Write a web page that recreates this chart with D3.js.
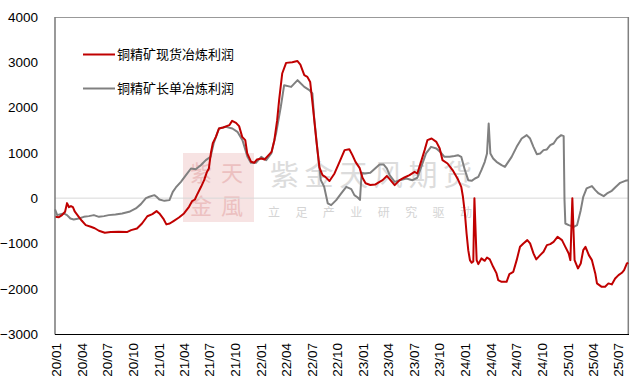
<!DOCTYPE html>
<html><head><meta charset="utf-8">
<script src="https://cdn.jsdelivr.net/npm/d3@7"></script>
<style>
html,body{margin:0;padding:0;background:#fff;}
svg{display:block;}
</style>
</head><body>
<svg id="c" width="637" height="391"></svg>
<script>
// ---- Data ----
const seriesNames = ["铜精矿现货冶炼利润", "铜精矿长单冶炼利润"];
const yTicks = [-3000, -2000, -1000, 0, 1000, 2000, 3000, 4000];
const xTickLabels = ["20/01","20/04","20/07","20/10","21/01","21/04","21/07","21/10","22/01","22/04","22/07","22/10","23/01","23/04","23/07","23/10","24/01","24/04","24/07","24/10","25/01","25/04","25/07"];

const spotDates = ["2020-01-01","2020-01-15","2020-01-26","2020-02-06","2020-02-13","2020-02-20","2020-02-27","2020-03-05","2020-03-12","2020-03-26","2020-04-06","2020-04-20","2020-05-08","2020-05-22","2020-06-06","2020-06-27","2020-07-18","2020-08-16","2020-09-14","2020-09-29","2020-10-20","2020-11-07","2020-11-26","2020-12-14","2020-12-29","2021-01-08","2021-01-22","2021-02-02","2021-02-14","2021-03-01","2021-03-19","2021-04-06","2021-04-24","2021-05-05","2021-05-15","2021-05-22","2021-06-06","2021-06-17","2021-06-27","2021-07-04","2021-07-11","2021-07-18","2021-07-29","2021-08-09","2021-08-24","2021-09-15","2021-09-25","2021-10-09","2021-10-20","2021-10-31","2021-11-11","2021-11-18","2021-12-02","2021-12-13","2021-12-23","2022-01-08","2022-01-19","2022-01-30","2022-02-13","2022-02-23","2022-03-05","2022-03-12","2022-03-23","2022-04-06","2022-04-28","2022-05-16","2022-05-27","2022-06-10","2022-06-21","2022-07-01","2022-07-12","2022-07-23","2022-08-03","2022-08-14","2022-08-24","2022-09-08","2022-09-26","2022-10-14","2022-11-01","2022-11-18","2022-11-29","2022-12-10","2022-12-25","2023-01-04","2023-01-15","2023-02-01","2023-02-18","2023-03-06","2023-03-17","2023-04-01","2023-04-11","2023-04-29","2023-05-17","2023-06-03","2023-06-21","2023-07-09","2023-07-19","2023-08-03","2023-08-14","2023-08-24","2023-09-08","2023-09-25","2023-10-07","2023-10-17","2023-11-04","2023-11-22","2023-12-10","2023-12-23","2023-12-29","2024-01-05","2024-01-11","2024-01-17","2024-01-23","2024-01-29","2024-02-04","2024-02-08","2024-02-16","2024-02-22","2024-03-04","2024-03-16","2024-03-24","2024-04-03","2024-04-15","2024-04-27","2024-05-03","2024-05-15","2024-06-02","2024-06-12","2024-06-26","2024-07-08","2024-07-20","2024-08-01","2024-08-15","2024-08-25","2024-09-06","2024-09-16","2024-09-30","2024-10-12","2024-10-24","2024-11-05","2024-11-17","2024-12-01","2024-12-17","2024-12-29","2025-01-10","2025-01-16","2025-01-23","2025-01-31","2025-02-12","2025-02-22","2025-03-03","2025-03-11","2025-03-23","2025-04-03","2025-04-15","2025-04-21","2025-05-08","2025-05-20","2025-06-01","2025-06-13","2025-06-25","2025-07-07","2025-07-19","2025-07-27","2025-08-06","2025-08-11"];
const spotProfit = [-413,-420,-375,-300,-110,-200,-175,-200,-300,-413,-500,-595,-633,-665,-720,-765,-750,-743,-750,-706,-670,-560,-400,-353,-287,-338,-450,-580,-560,-500,-427,-338,-192,-66,-30,66,250,397,580,655,990,1214,1353,1538,1560,1611,1707,1663,1590,1353,1280,987,802,780,854,876,854,927,1022,1280,1722,2163,2752,2987,3002,3030,2950,2715,2678,2567,1942,1280,680,508,470,380,545,802,1060,1080,950,800,662,450,330,290,300,360,397,490,420,287,397,456,508,580,545,839,1060,1280,1317,1243,1096,839,765,620,430,250,30,-338,-780,-1148,-1369,-1428,-1400,0,-1369,-1457,-1331,-1384,-1310,-1353,-1516,-1662,-1810,-1847,-1847,-1678,-1627,-1369,-1075,-1000,-927,-1000,-1221,-1353,-1258,-1185,-1037,-1015,-965,-854,-927,-1075,-1221,-1369,0,-1369,-1552,-1442,-1148,-1075,-1258,-1369,-1662,-1883,-1958,-1958,-1883,-1905,-1773,-1700,-1648,-1590,-1442,-1428];

const longDates = ["2020-01-01","2020-01-09","2020-01-21","2020-02-01","2020-02-13","2020-02-25","2020-03-08","2020-03-26","2020-04-13","2020-05-01","2020-05-19","2020-06-06","2020-06-24","2020-07-11","2020-08-04","2020-08-28","2020-09-22","2020-10-16","2020-11-03","2020-11-21","2020-12-03","2020-12-21","2020-12-29","2021-01-08","2021-01-26","2021-02-13","2021-02-25","2021-03-08","2021-03-26","2021-04-13","2021-05-01","2021-05-18","2021-06-05","2021-06-23","2021-07-10","2021-07-21","2021-08-09","2021-09-02","2021-09-26","2021-10-14","2021-11-01","2021-11-19","2021-12-01","2021-12-19","2022-01-07","2022-01-25","2022-02-12","2022-03-01","2022-03-18","2022-03-30","2022-04-24","2022-05-17","2022-06-10","2022-06-28","2022-07-09","2022-07-15","2022-07-27","2022-08-08","2022-08-20","2022-09-02","2022-09-14","2022-10-02","2022-10-20","2022-11-07","2022-11-25","2022-12-06","2022-12-18","2022-12-26","2023-01-01","2023-01-12","2023-02-01","2023-02-18","2023-03-06","2023-03-20","2023-04-01","2023-04-11","2023-04-29","2023-05-17","2023-06-10","2023-07-02","2023-07-19","2023-08-02","2023-08-19","2023-09-06","2023-09-25","2023-10-12","2023-10-24","2023-11-11","2023-11-29","2023-12-11","2023-12-23","2024-01-05","2024-01-17","2024-01-29","2024-02-10","2024-02-22","2024-03-04","2024-03-16","2024-03-24","2024-03-30","2024-04-05","2024-04-15","2024-04-27","2024-05-15","2024-05-27","2024-06-08","2024-06-20","2024-07-08","2024-07-26","2024-08-13","2024-08-25","2024-09-06","2024-09-18","2024-09-30","2024-10-12","2024-10-24","2024-11-05","2024-11-17","2024-11-29","2024-12-14","2024-12-23","2024-12-26","2024-12-29","2025-01-10","2025-01-28","2025-02-09","2025-02-22","2025-03-03","2025-03-15","2025-04-03","2025-04-15","2025-04-27","2025-05-15","2025-05-27","2025-06-13","2025-06-25","2025-07-13","2025-07-31","2025-08-11"];
const longProfit = [-250,-375,-353,-338,-375,-450,-470,-450,-413,-397,-375,-413,-397,-375,-360,-338,-302,-228,-132,0,30,66,30,-30,-60,-44,140,236,360,508,655,640,728,839,912,1207,1538,1574,1538,1464,1280,912,780,780,912,839,987,1428,2015,2494,2457,2605,2457,2384,2311,1795,1060,397,250,-117,-155,-44,103,250,200,66,15,-40,560,545,560,655,745,745,655,508,360,397,434,397,450,690,987,1133,1096,1000,912,912,930,949,912,618,397,382,434,470,618,802,987,1649,987,876,802,728,690,802,912,1133,1317,1391,1317,1133,971,987,1060,1075,1170,1207,1317,1391,1369,-44,-560,-596,-633,-596,-265,30,214,265,177,103,44,103,162,236,338,382,397];

// ---- Layout ----
const L = 55, R = 628.3, T = 17, B = 334;
const svg = d3.select("#c");
const parse = d3.timeParse("%Y-%m-%d");

const x = d3.scaleTime().domain([parse("2020-01-01"), parse("2025-08-11")]).range([L, R]);
const y = d3.scaleLinear().domain([-3000, 4000]).range([B, T]);

// ---- Watermark ----
const wm = svg.append("g");
wm.append("rect").attr("x", 183).attr("y", 153).attr("width", 71).attr("height", 69)
  .attr("fill", "#f7e3e3");
[["紫",190,181],["天",221,181],["金",190,214],["風",221,214]].forEach(([t,tx,ty]) => {
  wm.append("text").attr("x", tx).attr("y", ty).text(t)
    .attr("font-family", "Noto Sans CJK SC").attr("font-size", 22)
    .attr("fill", "#ecc0c0");
});
wm.append("text").attr("x", 270).attr("y", 186).text("紫金天风期货")
  .attr("font-family", "Noto Sans CJK SC").attr("font-size", 29)
  .attr("textLength", 202).attr("lengthAdjust", "spacing")
  .attr("fill", "#dcdcdc");
wm.append("text").attr("x", 268).attr("y", 217).text("立足产业研究驱动")
  .attr("font-family", "Noto Sans CJK SC").attr("font-size", 12)
  .attr("textLength", 204).attr("lengthAdjust", "spacing")
  .attr("fill", "#d4d4d4");

// ---- Zero line ----
svg.append("line").attr("x1", L).attr("x2", R).attr("y1", y(0)).attr("y2", y(0))
  .attr("stroke", "#d9d9d9").attr("stroke-width", 1);

// ---- Frame ----
svg.append("line").attr("x1", L).attr("x2", R).attr("y1", T + 0.5).attr("y2", T + 0.5)
  .attr("stroke", "#999").attr("stroke-width", 1);
svg.append("line").attr("x1", R).attr("x2", R).attr("y1", T).attr("y2", B)
  .attr("stroke", "#808080").attr("stroke-width", 1.5);

// ---- Lines ----
const spot = spotDates.map((d, i) => ({ date: parse(d), v: spotProfit[i] }));
const lng = longDates.map((d, i) => ({ date: parse(d), v: longProfit[i] }));
const line = d3.line().x(d => x(d.date)).y(d => y(d.v)).curve(d3.curveLinear);

svg.append("path").datum(lng).attr("d", line)
  .attr("fill", "none").attr("stroke", "#808080").attr("stroke-width", 2).attr("stroke-linejoin", "round");
svg.append("path").datum(spot).attr("d", line)
  .attr("fill", "none").attr("stroke", "#c00000").attr("stroke-width", 2).attr("stroke-linejoin", "round");

// ---- Axes ----
const yAxis = svg.append("g").attr("transform", `translate(${L},0)`)
  .call(d3.axisLeft(y).tickValues(yTicks).tickSize(0).tickPadding(17).tickFormat(d3.format("d")));
yAxis.select(".domain").remove();
yAxis.selectAll("text").attr("font-family", "Liberation Sans, Arial, sans-serif")
  .attr("font-size", 13.5).attr("fill", "#000");

const xTickDates = xTickLabels.map(s => parse("20" + s.slice(0,2) + "-" + s.slice(3) + "-01"));
const xAxis = svg.append("g").attr("transform", `translate(0,${B})`)
  .call(d3.axisBottom(x).tickValues(xTickDates).tickSize(0)
    .tickFormat((d, i) => xTickLabels[i]));
xAxis.select(".domain").remove();
xAxis.selectAll("text")
  .attr("x", 0).attr("y", 0).attr("dy", "0.36em")
  .attr("text-anchor", "end")
  .attr("transform", "translate(1,9) rotate(-90)")
  .attr("font-family", "Liberation Sans, Arial, sans-serif")
  .attr("font-size", 13.5).attr("fill", "#000");

// left axis (gray) and bottom axis (black)
svg.append("line").attr("x1", L).attr("x2", L).attr("y1", T).attr("y2", B + 0.5)
  .attr("stroke", "#808080").attr("stroke-width", 1.6);
svg.append("line").attr("x1", L).attr("x2", R + 0.7).attr("y1", B + 0.5).attr("y2", B + 0.5)
  .attr("stroke", "#000").attr("stroke-width", 1);

// ---- Legend ----
const legendColors = ["#c00000", "#808080"];
const lg = svg.append("g");
seriesNames.forEach((n, i) => {
  const ly = 54.5 + i * 34;
  lg.append("line").attr("x1", 83).attr("x2", 115).attr("y1", ly).attr("y2", ly)
    .attr("stroke", legendColors[i]).attr("stroke-width", 2);
  lg.append("text").attr("x", 117).attr("y", ly).attr("dy", "0.36em").text(n)
    .attr("font-family", "Noto Sans CJK SC, sans-serif").attr("font-size", 13)
    .attr("fill", "#000");
});
</script>
</body></html>
